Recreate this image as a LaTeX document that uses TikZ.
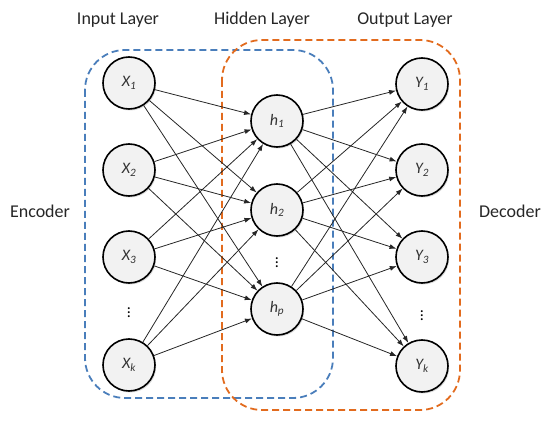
\documentclass[tikz,border=0pt]{standalone}
\usepackage{fontspec}
\setmainfont{Carlito}
\usetikzlibrary{arrows.meta,shadows}
\definecolor{encblue}{RGB}{74,126,187}
\definecolor{decorange}{RGB}{226,107,30}

\begin{document}
\begin{tikzpicture}[
      x=1pt, y=-1pt,
      >={Latex[length=7pt,width=5pt]},
      neuron/.style={
          circle, draw, line width=1.6pt,
          fill=gray!10, minimum size=52pt, inner sep=0pt,
          font=\fontsize{16}{19}\selectfont\itshape, text=black!80,
          drop shadow={shadow xshift=1.2pt, shadow yshift=-1.5pt, opacity=0.3}
      },
      vdotsnode/.style={font=\fontsize{16}{19}\selectfont\boldmath, inner sep=0pt},
      layertitle/.style={font=\fontsize{18}{22}\selectfont, text=black!85},
      groupbox/.style={
          line width=1.8pt, rounded corners=40pt,
          dash pattern=on 7pt off 4pt
      },
      link/.style={->, line width=0.8pt, black!85}
  ]
    \useasboundingbox (0,0) rectangle (550,428);

    % Encoder and decoder boxes
    \draw[groupbox, encblue] (85,50) rectangle (333,398);
    \draw[groupbox, decorange] (222,40) rectangle (460,410);

    % Titles
    \node[layertitle] (tin) at (118,20) {Input Layer};
    \node[layertitle] (thid) at (262,20) {Hidden Layer};
    \node[layertitle] (tout) at (405,20) {Output Layer};
    \node[layertitle] (enc) at (40,211) {Encoder};
    \node[layertitle] (dec) at (510,211) {Decoder};

    % Input layer
    \node[neuron] (x1) at (129,83) {X\textsubscript{1}};
    \node[neuron] (x2) at (129,170) {X\textsubscript{2}};
    \node[neuron] (x3) at (129,257) {X\textsubscript{3}};
    \node[vdotsnode] (xd) at (129,310) {$\vdots$};
    \node[neuron] (xk) at (129,365) {X\textsubscript{k}};

    % Hidden layer
    \node[neuron] (h1) at (277,121) {h\textsubscript{1}};
    \node[neuron] (h2) at (277,210) {h\textsubscript{2}};
    \node[vdotsnode] (hd) at (277,260) {$\vdots$};
    \node[neuron] (hp) at (277,309) {h\textsubscript{p}};

    % Output layer
    \node[neuron] (y1) at (422,84) {Y\textsubscript{1}};
    \node[neuron] (y2) at (422,170) {Y\textsubscript{2}};
    \node[neuron] (y3) at (422,257) {Y\textsubscript{3}};
    \node[vdotsnode] (yd) at (422,313) {$\vdots$};
    \node[neuron] (yk) at (422,366) {Y\textsubscript{k}};

    % Edges
    \foreach \i in {x1,x2,x3,xk}
        \foreach \j in {h1,h2,hp}
            \draw[link] (\i) -- (\j);
    \foreach \j in {h1,h2,hp}
        \foreach \k in {y1,y2,y3,yk}
            \draw[link] (\j) -- (\k);
  \end{tikzpicture}
\end{document}
